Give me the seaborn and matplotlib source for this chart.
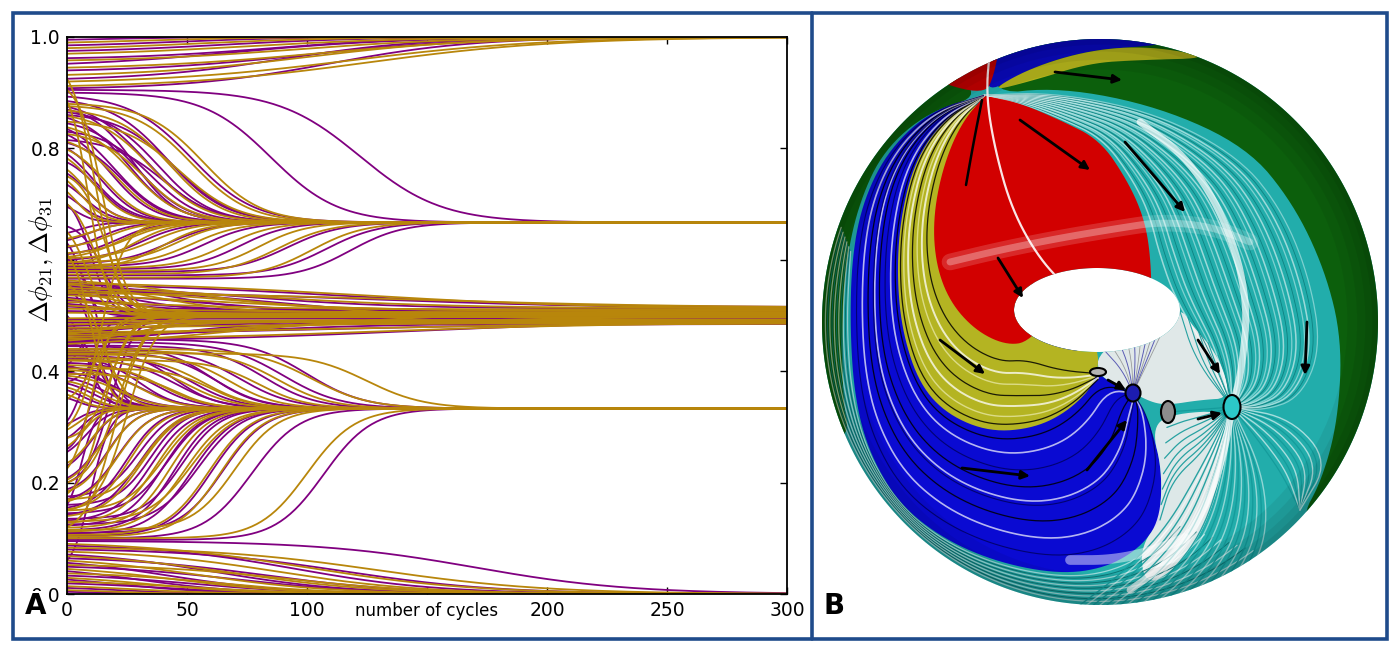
import numpy as np
import pandas as pd
import matplotlib
matplotlib.use("Agg")
import matplotlib.pyplot as plt
import seaborn as sns
from matplotlib.path import Path
from matplotlib.patches import PathPatch, Polygon, Ellipse, Rectangle
from matplotlib.transforms import blended_transform_factory

sns.set_style("ticks")
plt.rcParams["font.family"] = ["DejaVu Sans"]
plt.rcParams["mathtext.fontset"] = "cm"
plt.rcParams.update({"xtick.color": "black", "ytick.color": "black",
                     "axes.labelcolor": "black", "text.color": "black"})

PURPLE = "#800080"
GOLD = "#b8860b"
FRAME = "#1f4b8b"

# ---------------- panel A: trajectories (start, final value, mid cycle, width)
purple_runs = [
    # towards 1.0
    (0.995, 1.0, 15, 20), (0.985, 1.0, 45, 25), (0.975, 1.0, 65, 30), (0.962, 1.0, 85, 30),
    (0.952, 1.0, 70, 35), (0.94, 1.0, 100, 35), (0.925, 1.0, 90, 30), (0.908, 1.0, 110, 30),
    # towards 2/3 from above
    (0.905, 0.667, 122, 17), (0.9, 0.667, 85, 14), (0.893, 0.667, 52, 13), (0.885, 0.667, 42, 12),
    (0.875, 0.667, 33, 12), (0.865, 0.667, 38, 11), (0.855, 0.667, 26, 10), (0.845, 0.667, 30, 10),
    (0.835, 0.667, 20, 10), (0.825, 0.667, 18, 9), (0.81, 0.667, 23, 9), (0.8, 0.667, 14, 8),
    (0.79, 0.667, 11, 8), (0.775, 0.667, 13, 7), (0.755, 0.667, 9, 6), (0.735, 0.667, 7, 6),
    (0.715, 0.667, 5, 5), (0.695, 0.667, 4, 4), (0.87, 0.667, 28, 9), (0.86, 0.667, 45, 12),
    (0.83, 0.667, 35, 10), (0.815, 0.667, 40, 11),
    # towards 2/3 from below
    (0.566, 0.667, 118, 11), (0.572, 0.667, 108, 11), (0.578, 0.667, 92, 11), (0.583, 0.667, 72, 10),
    (0.588, 0.667, 57, 10), (0.593, 0.667, 42, 10), (0.6, 0.667, 31, 9), (0.61, 0.667, 21, 8),
    (0.622, 0.667, 14, 7), (0.635, 0.667, 9, 6), (0.648, 0.667, 5, 5),
    # 1/2 band
    (0.56, 0.508, 40, 18), (0.552, 0.512, 70, 35), (0.545, 0.506, 28, 15), (0.538, 0.503, 55, 30),
    (0.532, 0.51, 18, 12), (0.527, 0.5, 45, 30), (0.521, 0.507, 12, 8), (0.516, 0.497, 35, 25),
    (0.508, 0.505, 20, 15), (0.492, 0.495, 30, 20), (0.487, 0.49, 45, 25), (0.481, 0.488, 20, 12),
    (0.476, 0.493, 60, 35), (0.47, 0.489, 30, 15), (0.464, 0.486, 75, 35), (0.458, 0.491, 15, 10),
    (0.452, 0.487, 40, 20), (0.447, 0.49, 25, 12), (0.555, 0.515, 110, 45), (0.548, 0.49, 90, 40),
    (0.542, 0.513, 130, 50), (0.468, 0.485, 110, 45), (0.46, 0.512, 95, 40), (0.455, 0.49, 140, 50),
    # towards 1/3 from above
    (0.457, 0.333, 100, 12), (0.452, 0.333, 90, 12), (0.446, 0.333, 82, 11), (0.44, 0.333, 72, 11),
    (0.434, 0.333, 62, 10), (0.428, 0.333, 52, 10), (0.422, 0.333, 45, 10), (0.415, 0.333, 37, 9),
    (0.407, 0.333, 30, 9), (0.398, 0.333, 22, 8), (0.388, 0.333, 16, 7), (0.378, 0.333, 11, 6),
    (0.366, 0.333, 7, 5), (0.352, 0.333, 4, 4), (0.445, 0.333, 60, 10), (0.437, 0.333, 45, 9),
    (0.425, 0.333, 30, 8), (0.41, 0.333, 18, 7),
    # towards 1/3 from below
    (0.097, 0.333, 107, 10), (0.1, 0.333, 77, 10), (0.104, 0.333, 60, 9), (0.108, 0.333, 52, 9),
    (0.115, 0.333, 45, 8), (0.123, 0.333, 40, 8), (0.132, 0.333, 35, 8), (0.142, 0.333, 30, 8),
    (0.155, 0.333, 25, 7), (0.17, 0.333, 21, 7), (0.188, 0.333, 17, 6), (0.208, 0.333, 13, 6),
    (0.23, 0.333, 10, 5), (0.255, 0.333, 8, 5), (0.28, 0.333, 6, 4), (0.305, 0.333, 4, 4),
    (0.11, 0.333, 65, 9), (0.125, 0.333, 55, 9), (0.135, 0.333, 48, 8), (0.145, 0.333, 42, 8),
    (0.16, 0.333, 35, 7), (0.175, 0.333, 30, 7),
    # towards 0
    (0.095, 0.0, 170, 32), (0.087, 0.0, 95, 30), (0.08, 0.0, 115, 32), (0.071, 0.0, 62, 28),
    (0.064, 0.0, 82, 30), (0.056, 0.0, 42, 25), (0.049, 0.0, 70, 28), (0.041, 0.0, 30, 22),
    (0.033, 0.0, 52, 25), (0.026, 0.0, 22, 20), (0.019, 0.0, 40, 22), (0.011, 0.0, 18, 18),
    (0.004, 0.0, 10, 12),
    # fast early crossings
    (0.5, 0.333, 8, 4), (0.48, 0.333, 12, 5), (0.63, 0.5, 6, 3), (0.7, 0.5, 10, 4),
    (0.26, 0.5, 12, 4), (0.31, 0.5, 8, 4), (0.41, 0.5, 6, 4), (0.16, 0.333, 6, 3),
    (0.06, 0.333, 10, 4), (0.66, 0.5, 15, 5), (0.2, 0.5, 18, 5), (0.38, 0.5, 14, 5),
    (0.55, 0.333, 12, 4), (0.6, 0.333, 14, 4),
]

gold_runs = [
    # towards 1.0
    (0.99, 1.0, 30, 25), (0.98, 1.0, 55, 30), (0.97, 1.0, 75, 35), (0.958, 1.0, 95, 35),
    (0.945, 1.0, 105, 38), (0.932, 1.0, 100, 35), (0.92, 1.0, 118, 40), (0.912, 1.0, 125, 40),
    # towards 2/3 from above
    (0.88, 0.667, 57, 12), (0.876, 0.667, 52, 12), (0.868, 0.667, 43, 11), (0.858, 0.667, 35, 11),
    (0.848, 0.667, 47, 12), (0.838, 0.667, 27, 10), (0.826, 0.667, 32, 10), (0.812, 0.667, 21, 9),
    (0.798, 0.667, 16, 8), (0.782, 0.667, 11, 7), (0.762, 0.667, 8, 6), (0.742, 0.667, 6, 5),
    (0.722, 0.667, 4, 4),
    # towards 2/3 from below
    (0.568, 0.667, 102, 11), (0.574, 0.667, 88, 11), (0.58, 0.667, 80, 10), (0.585, 0.667, 66, 10),
    (0.59, 0.667, 52, 10), (0.596, 0.667, 46, 9), (0.603, 0.667, 36, 9), (0.612, 0.667, 26, 8),
    (0.624, 0.667, 18, 7), (0.638, 0.667, 10, 6), (0.585, 0.667, 40, 9), (0.595, 0.667, 28, 8),
    (0.605, 0.667, 22, 8),
    # 1/2 band
    (0.563, 0.51, 50, 25), (0.556, 0.505, 35, 18), (0.549, 0.513, 80, 40), (0.543, 0.502, 22, 12),
    (0.536, 0.508, 65, 35), (0.53, 0.504, 15, 10), (0.524, 0.511, 40, 30), (0.518, 0.499, 25, 15),
    (0.512, 0.506, 50, 30), (0.505, 0.503, 20, 15), (0.495, 0.497, 30, 20), (0.49, 0.492, 55, 30),
    (0.484, 0.489, 25, 15), (0.478, 0.487, 70, 40), (0.473, 0.491, 35, 18), (0.467, 0.49, 18, 10),
    (0.461, 0.486, 50, 25), (0.455, 0.488, 28, 12), (0.449, 0.493, 60, 30), (0.558, 0.512, 120, 50),
    (0.545, 0.492, 85, 40), (0.465, 0.51, 105, 45), (0.458, 0.487, 130, 50), (0.54, 0.514, 150, 55),
    (0.47, 0.486, 125, 50),
    # towards 1/3 from above
    (0.432, 0.333, 125, 12), (0.44, 0.333, 102, 12), (0.436, 0.333, 88, 11), (0.43, 0.333, 68, 10),
    (0.425, 0.333, 57, 10), (0.419, 0.333, 50, 10), (0.411, 0.333, 40, 9), (0.402, 0.333, 31, 8),
    (0.392, 0.333, 22, 8), (0.382, 0.333, 14, 6), (0.371, 0.333, 9, 5), (0.358, 0.333, 5, 4),
    (0.42, 0.333, 80, 10), (0.405, 0.333, 60, 9), (0.395, 0.333, 45, 8),
    # towards 1/3 from below
    (0.1, 0.333, 100, 10), (0.103, 0.333, 64, 9), (0.106, 0.333, 59, 9), (0.112, 0.333, 49, 9),
    (0.119, 0.333, 43, 8), (0.128, 0.333, 37, 8), (0.14, 0.333, 31, 8), (0.152, 0.333, 26, 7),
    (0.166, 0.333, 21, 7), (0.184, 0.333, 17, 6), (0.205, 0.333, 13, 6), (0.235, 0.333, 10, 5),
    (0.265, 0.333, 7, 4), (0.295, 0.333, 5, 4), (0.115, 0.333, 70, 9), (0.13, 0.333, 52, 9),
    (0.15, 0.333, 40, 8), (0.17, 0.333, 33, 7),
    # towards 0
    (0.09, 0.0, 100, 35), (0.083, 0.0, 130, 35), (0.076, 0.0, 88, 30), (0.068, 0.0, 70, 30),
    (0.06, 0.0, 55, 28), (0.052, 0.0, 92, 30), (0.045, 0.0, 45, 25), (0.037, 0.0, 62, 25),
    (0.029, 0.0, 35, 22), (0.022, 0.0, 50, 25), (0.014, 0.0, 26, 20), (0.007, 0.0, 15, 15),
    # fast early crossings
    (0.925, 0.5, 12, 5), (0.905, 0.5, 15, 5), (0.885, 0.5, 9, 4), (0.18, 0.5, 15, 5),
    (0.2, 0.5, 21, 6), (0.225, 0.5, 10, 4), (0.28, 0.5, 18, 5), (0.35, 0.5, 12, 5),
    (0.15, 0.5, 25, 6), (0.61, 0.333, 10, 4), (0.555, 0.333, 15, 5), (0.65, 0.5, 8, 4),
    (0.7, 0.5, 12, 5), (0.75, 0.5, 16, 5), (0.12, 0.5, 20, 6), (0.3, 0.667, 14, 5),
]

x_ticks = [0, 50, 100, 150, 200, 250, 300]
x_ticklabels = ["0", "50", "100", "", "200", "250", "300"]
y_ticks = [0.0, 0.2, 0.4, 0.6, 0.8, 1.0]
y_ticklabels = ["0.0", "0.2", "0.4", "", "0.8", "1.0"]

# ---------------- panel B: torus sketch, picture coordinates (px)
torus_outer = (1100, 322, 278, 283)
torus_hole = (1097, 310, 83, 42)
red_right = [(985, 95), (1020, 103), (1060, 120), (1100, 140), (1127, 180), (1143, 215), (1150, 250), (1152, 300)]
red_left = [(985, 95), (960, 125), (942, 170), (933, 220), (936, 265), (950, 302), (975, 330), (1005, 345), (1030, 342)]
red_cap = [(985, 95), (930, 80), (945, 60), (975, 48), (1000, 43), (994, 75)]
yellow_outer = [(985, 95), (945, 118), (915, 160), (900, 220), (897, 280), (903, 335), (920, 385), (948, 415),
                (990, 432), (1035, 428), (1070, 410), (1098, 380)]
blue_outer = [(985, 95), (932, 110), (890, 148), (864, 198), (852, 255), (850, 330), (855, 400), (870, 455),
              (900, 505), (945, 540), (1000, 563), (1060, 574), (1105, 568), (1140, 548), (1160, 520)]
blue_right = [(1160, 520), (1162, 470), (1152, 430), (1140, 402), (1125, 388), (1098, 376)]
green_inner = [(985, 95), (1060, 87), (1160, 107), (1247, 147), (1293, 203), (1325, 270), (1342, 340),
               (1338, 420), (1322, 480), (1300, 520)]
green_left_inner = [(985, 95), (928, 112), (884, 150), (860, 200), (846, 260), (842, 330), (843, 400), (850, 440)]
top_blue = [(985, 95), (992, 60), (1000, 30), (1100, 25), (1190, 40), (1150, 46), (1090, 50), (1030, 68)]
top_yellow = [(988, 92), (1030, 68), (1090, 50), (1150, 46), (1215, 58), (1140, 60), (1090, 63), (1035, 80)]
under_hole = [(1098, 350), (1098, 376), (1125, 388), (1150, 402), (1168, 405), (1200, 400), (1232, 398),
              (1218, 355), (1192, 325), (1178, 305)]
white_fan = [(1160, 520), (1162, 470), (1152, 430), (1168, 414), (1232, 410), (1226, 455), (1215, 500),
             (1198, 540), (1172, 572), (1145, 585), (1140, 548)]
cyan_flow_outer = [(985, 95), (1060, 92), (1160, 112), (1245, 155), (1290, 210), (1318, 280), (1328, 350),
                   (1305, 400), (1265, 412), (1232, 407)]
white_band = [(1140, 122), (1190, 160), (1228, 225), (1248, 300), (1242, 370), (1232, 407), (1224, 455),
              (1205, 510), (1172, 560), (1130, 590)]
glow_top = [(950, 262), (1000, 250), (1060, 238), (1120, 228), (1160, 222), (1210, 226), (1250, 242)]
glow_bottom = [(1070, 560), (1110, 560), (1150, 552), (1185, 538)]
flow_arrows = [((1020, 120), (1090, 170)), ((1125, 142), (1185, 212)), ((1055, 72), (1122, 80)),
               ((998, 258), (1023, 298)), ((940, 340), (985, 374)), ((962, 468), (1030, 476)),
               ((1087, 470), (1127, 420)), ((1198, 340), (1220, 374)), ((1198, 419), (1222, 413)),
               ((1307, 322), (1305, 375)), ((1108, 380), (1126, 390))]
fixed_points = [((1232, 407), 17, 24, "#2cc8c8"), ((1133, 393), 15, 17, "#1c1cb0"),
                ((1168, 412), 14, 22, "#8c8c8c"), ((1098, 372), 16, 8, "#b4b4b4")]

# ---------------- build trajectories
cycles = np.arange(0, 301)


def trajectory(y0, y1, t_mid, width):
    s = 1.0 / (1.0 + np.exp(-(cycles - t_mid) / width))
    return y0 + (y1 - y0) * (s - s[0]) / (1.0 - s[0])


frames = []
for kind, runs in (("purple", purple_runs), ("gold", gold_runs)):
    for i, run in enumerate(runs):
        frames.append(pd.DataFrame({"cycle": cycles, "phase": trajectory(*run),
                                    "kind": kind, "run": f"{kind}{i}"}))
traj = pd.concat(frames, ignore_index=True)

# ---------------- figure
fig = plt.figure(figsize=(14, 6.54), dpi=100)
canvas = fig.add_axes([0, 0, 1, 1])
canvas.set_xlim(0, 1400)
canvas.set_ylim(654, 0)
canvas.axis("off")

ax = fig.add_axes([67 / 1400, 60 / 654, 720 / 1400, 557 / 654])
sns.lineplot(data=traj, x="cycle", y="phase", hue="kind", units="run", estimator=None,
             hue_order=["purple", "gold"], palette={"purple": PURPLE, "gold": GOLD},
             lw=1.3, legend=False, sort=False, ax=ax)
ax.set_xlim(0, 300)
ax.set_ylim(0, 1)
ax.tick_params(direction="in", top=True, right=True, length=5, width=1, labelsize=13.5, pad=5)
ax.set_xticks(x_ticks)
ax.set_xticklabels(x_ticklabels)
ax.set_yticks(y_ticks)
ax.set_yticklabels(y_ticklabels)
ax.set_xlabel("")
ax.set_ylabel(r"$\Delta\phi_{21},\Delta\phi_{31}$", fontsize=19)
ax.yaxis.set_label_coords(-0.016, 0.6)
for sp in ax.spines.values():
    sp.set_linewidth(1.3)
    sp.set_color("black")
ax.text(150, -0.014, "number of cycles", ha="center", va="top", fontsize=12,
        transform=blended_transform_factory(ax.transData, ax.transAxes))

fig.text(36 / 1400, 1 - 606 / 654, "A", fontsize=20, fontweight="bold", ha="center", va="center",
         bbox=dict(fc="white", ec="none", pad=0.6))
fig.text(834 / 1400, 1 - 606 / 654, "B", fontsize=20, fontweight="bold", ha="center", va="center")

# frames around the panels
canvas.add_patch(Rectangle((12.5, 12.5), 1374, 626, fill=False, ec=FRAME, lw=2.6, zorder=10))
canvas.plot([812, 812], [12.5, 638.5], color=FRAME, lw=2.6, zorder=10)


# ---------------- panel B helpers
def smooth(pts, n=3, closed=False):
    p = np.asarray(pts, float)
    for _ in range(n):
        a = p if closed else p[:-1]
        b = np.roll(p, -1, axis=0) if closed else p[1:]
        new = np.empty((2 * len(a), 2))
        new[0::2] = 0.75 * a + 0.25 * b
        new[1::2] = 0.25 * a + 0.75 * b
        if not closed:
            new = np.vstack([p[0], new, p[-1]])
        p = new
    return p


def resample(pts, n=240):
    p = smooth(pts)
    d = np.r_[0, np.cumsum(np.hypot(*np.diff(p, axis=0).T))]
    s = np.linspace(0, d[-1], n)
    return np.c_[np.interp(s, d, p[:, 0]), np.interp(s, d, p[:, 1])]


th = np.linspace(0, 2 * np.pi, 361)
ox, oy, orx, ory = torus_outer
hx, hy, hrx, hry = torus_hole
outer_ring = np.c_[ox + orx * np.cos(th), oy + ory * np.sin(th)]
hole_ring = np.c_[hx + hrx * np.cos(th), hy + hry * np.sin(th)][::-1]
codes = np.full(2 * len(th), Path.LINETO)
codes[0] = Path.MOVETO
codes[len(th)] = Path.MOVETO
surface = PathPatch(Path(np.vstack([outer_ring, hole_ring]), codes), fc="#22adab", ec="none", zorder=1)
canvas.add_patch(surface)


def region(pts, color, z=2, alpha=1.0):
    poly = Polygon(smooth(pts, closed=True), closed=True, fc=color, ec="none", zorder=z, alpha=alpha)
    canvas.add_patch(poly)
    poly.set_clip_path(surface)


def stroke(pts, color, lw, alpha=1.0, z=3):
    p = pts if isinstance(pts, np.ndarray) else smooth(pts)
    line, = canvas.plot(p[:, 0], p[:, 1], color=color, lw=lw, alpha=alpha, zorder=z,
                        solid_capstyle="round")
    line.set_clip_path(surface)


def flow(inner, outer, fracs, styles, z=3):
    a, b = resample(inner), resample(outer)
    for k, f in enumerate(fracs):
        color, lw, alpha = styles[k % len(styles)]
        stroke((1 - f) * a + f * b, color, lw, alpha, z)


# basins
region(green_inner + [(1330, 545), (1420, 460), (1420, 150), (1300, 15), (1100, 5), (1000, 15)], "#0c5f0c")
region(green_left_inner + [(800, 445), (790, 100), (930, 60)], "#0c5f0c")
region(top_blue, "#0a0ac0")
region(top_yellow, "#b2b21c")
region(blue_outer + blue_right + [(1060, 330), (1000, 220)], "#0a0ad2")
region(yellow_outer + [(1098, 340), (1040, 300), (990, 200)], "#b4b422")
region(red_right + [(1120, 300), (1060, 300)] + red_left[::-1], "#d20000")
region(red_cap, "#c80000")
region(under_hole, "#ececec", alpha=0.95)
region(white_fan, "#eeeeee", alpha=0.92)

# streamlines
yellow_inner = red_left + [(1060, 358), (1098, 372)]
flow(yellow_inner, yellow_outer, [0.2, 0.34, 0.47, 0.6, 0.72, 0.84, 0.93],
     [("black", 0.9, 0.85), ("white", 1.4, 0.75), ("#e6e6a0", 1.0, 0.8)])
flow(yellow_outer + [(1133, 393)], blue_outer + [(1168, 470), (1152, 420), (1133, 393)],
     [0.06, 0.16, 0.28, 0.4, 0.5, 0.53, 0.64, 0.76, 0.88],
     [("black", 0.9, 0.85), ("white", 1.2, 0.7), ("#00005a", 0.8, 0.8)])
arc_t = np.radians(np.linspace(200, 55, 120))
bottom_arc = np.c_[ox + (orx - 2) * np.cos(arc_t), oy + (ory - 2) * np.sin(arc_t)]
flow(blue_outer[4:], bottom_arc, np.linspace(0.12, 0.95, 11),
     [("white", 0.9, 0.55), ("#0b6f6f", 0.7, 0.9)])
cyan_inner = red_right[:-2] + [(1152, 255), (1168, 300), (1198, 345), (1232, 407)]
flow(cyan_inner, cyan_flow_outer, np.linspace(0.05, 0.95, 30),
     [("white", 1.1, 0.55), ("#0e7c7c", 0.6, 0.9), ("#d8f4f4", 0.9, 0.5)])
flow([(1232, 407), (1200, 470), (1165, 530), (1120, 575), (1080, 605)],
     [(1232, 407), (1262, 470), (1268, 530), (1250, 575), (1215, 610)],
     np.linspace(0.0, 1.0, 22), [("#149a9a", 1.0, 0.9), ("white", 1.0, 0.5)])
flow([(1232, 407), (1205, 450), (1172, 480), (1160, 520)], [(1232, 407), (1195, 410), (1168, 412)],
     np.linspace(0.0, 1.0, 8), [("#149a9a", 0.9, 0.9)])
flow([(1232, 407), (1262, 455), (1300, 510)], [(1232, 407), (1295, 415), (1335, 460), (1300, 510)],
     np.linspace(0.1, 0.9, 10), [("#149a9a", 0.9, 0.9), ("white", 1.0, 0.6)])
flow([(1098, 350), (1120, 370), (1133, 393)], [(1178, 305), (1150, 360), (1133, 393)],
     np.linspace(0.05, 0.95, 10), [("#3a3aa8", 0.7, 0.8), ("#7a7a7a", 0.6, 0.7)])
flow([(1178, 305), (1195, 360), (1232, 407)], [(1218, 355), (1228, 380), (1232, 407)],
     np.linspace(0.0, 1.0, 5), [("#149a9a", 0.8, 0.9)])

stroke(white_band, "white", 5, 0.7, z=3)
stroke([(990, 48), (986, 95), (995, 150), (1012, 210), (1040, 260), (1072, 292)], "white", 1.6, 0.9, z=4)
stroke([(982, 100), (974, 140), (966, 185)], "black", 1.8, 1.0, z=4)

# shading
stroke(glow_top, "white", 12, 0.16, z=4)
stroke(glow_top, "white", 5, 0.3, z=4)
stroke(glow_bottom, "white", 7, 0.45, z=4)
for w in (44, 30, 18, 8):
    rim = Ellipse((ox, oy), 2 * orx, 2 * ory, fill=False, ec="black", lw=w, alpha=0.06, zorder=4)
    canvas.add_patch(rim)
    rim.set_clip_path(surface)

# arrows and fixed points
for start, end in flow_arrows:
    canvas.annotate("", xy=end, xytext=start, zorder=6,
                    arrowprops=dict(arrowstyle="-|>,head_length=0.5,head_width=0.25",
                                    color="black", lw=2.0, shrinkA=0, shrinkB=0))
for (cx, cy), w, h, col in fixed_points:
    canvas.add_patch(Ellipse((cx, cy), w, h, fc=col, ec="black", lw=1.5, zorder=7))

fig.savefig("out.png", dpi=100)
